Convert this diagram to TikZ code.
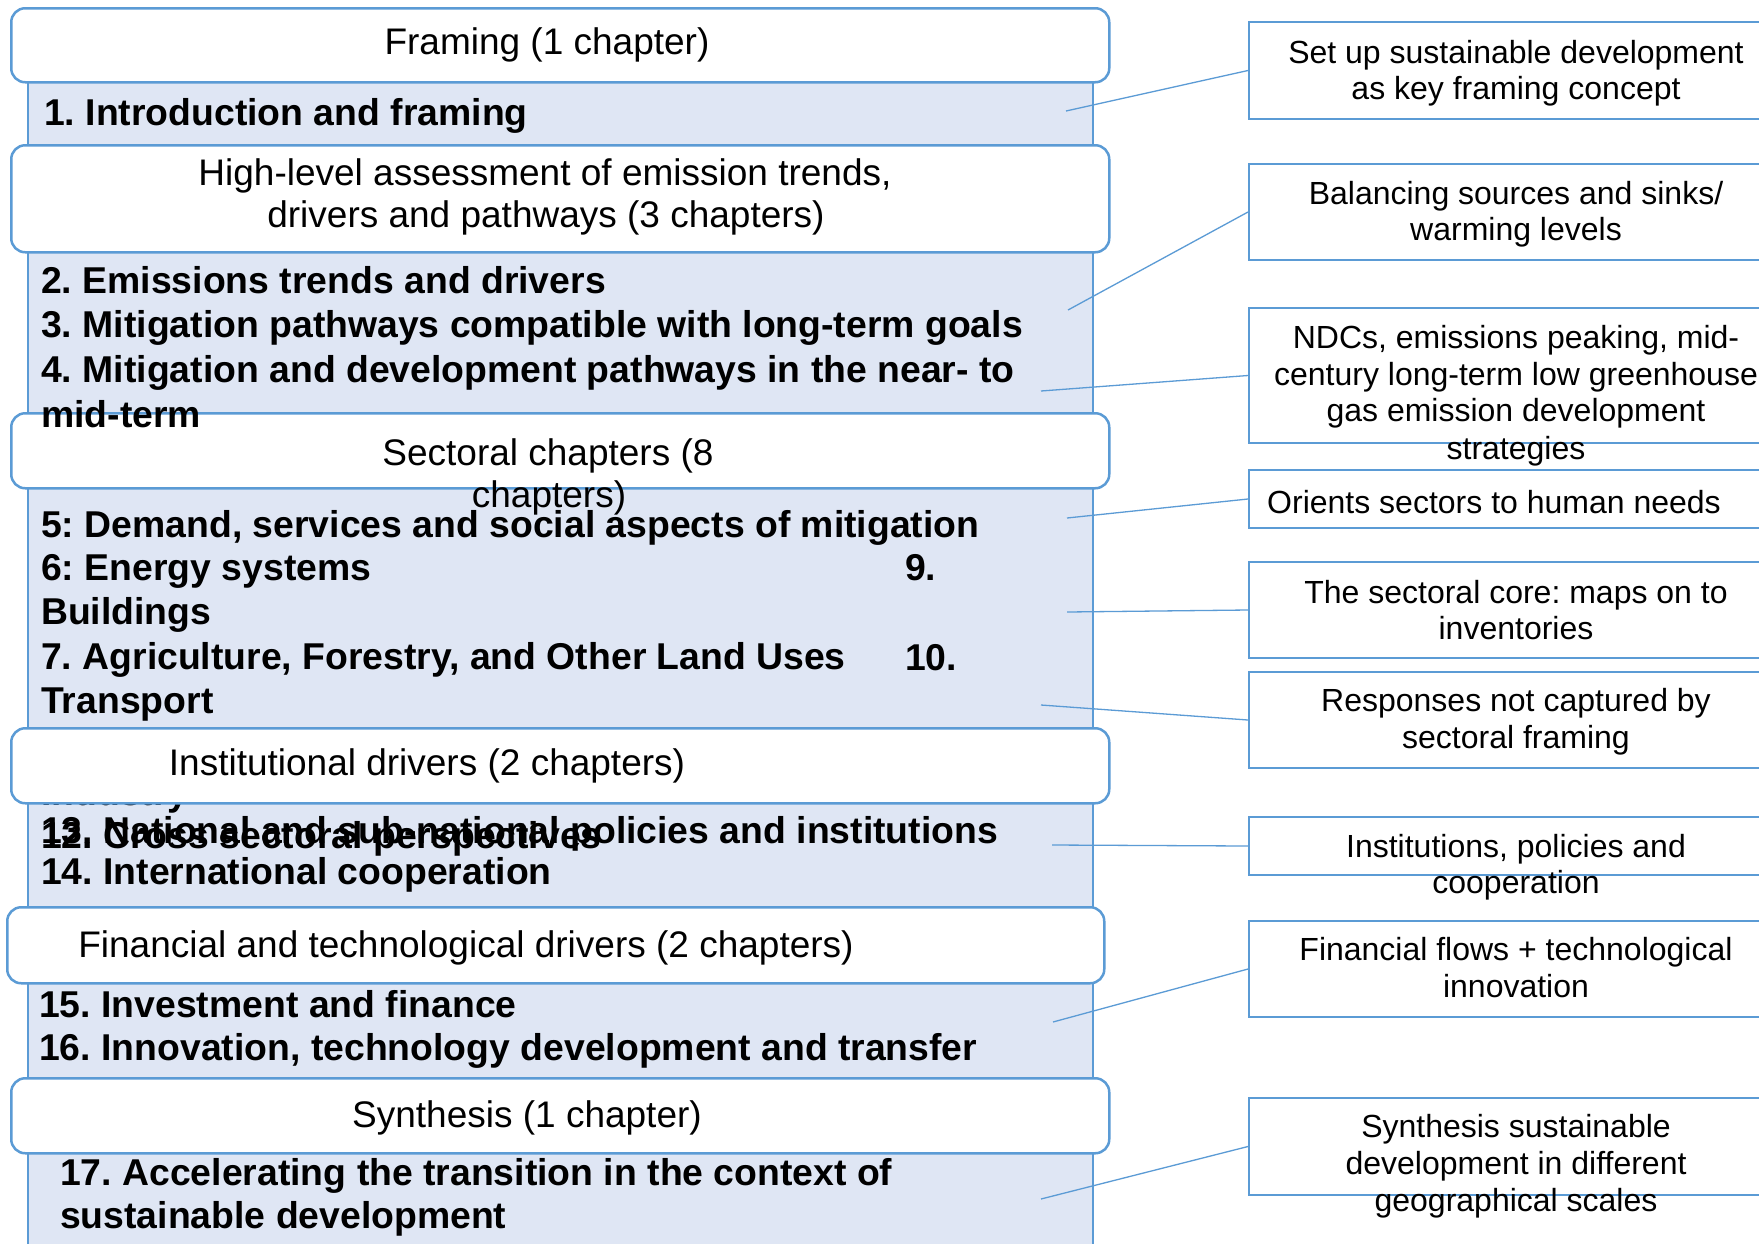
\documentclass[tikz,border=0pt]{standalone}
\usepackage{fontspec}
\setmainfont{Liberation Sans}
\definecolor{bord}{RGB}{91,155,213}
\definecolor{fillb}{RGB}{223,230,244}
\frenchspacing
\begin{document}
\begin{tikzpicture}[x=1pt,y=-1pt,
  bgbox/.style={draw=bord, line width=2pt, fill=fillb, anchor=north west, inner sep=0pt},
  hdr/.style={draw=bord, line width=2.5pt, fill=white, rounded corners=14pt, anchor=north west, inner sep=0pt, minimum width=1098pt},
  rbox/.style={draw=bord, line width=2pt, fill=white, anchor=north west, inner sep=0pt, minimum width=540pt},
  btxt/.style={font=\fontsize{37.35}{44}\selectfont\bfseries\frenchspacing, anchor=base west, inner sep=0pt},
  htxt/.style={font=\fontsize{37}{42}\selectfont\frenchspacing, anchor=base, inner sep=0pt},
  rtxt/.style={font=\fontsize{32}{37}\selectfont\frenchspacing, anchor=base, inner sep=0pt},
  conn/.style={draw=bord, line width=1.3pt}]
\clip (0,0) rectangle (1759,1243);
\fill[white] (0,0) rectangle (1759,1243);

% background content column
\node[bgbox, minimum width=1065pt, minimum height=1260pt] (bg) at (27,40) {};

% Framing
\node[hdr, minimum height=74pt] (h1) at (10,7) {};
\node[htxt] (h1t) at (547,54) {Framing (1 chapter)};
\node[btxt] (t1) at (44,125) {1. Introduction and framing};

% High-level
\node[hdr, minimum height=107pt] (h2) at (10,144) {};
\node[htxt] (h2a) at (545,185) {High-level assessment of emission trends,};
\node[htxt] (h2b) at (546,227) {drivers and pathways (3 chapters)};

% Sectoral header
\node[hdr, minimum height=75pt] (h3) at (10,412) {};
\node[htxt] (h3a) at (548,465) {Sectoral chapters (8};
\node[htxt] (h3b) at (549,507) {chapters)};

% High-level content
\node[btxt] (t2a) at (41,293) {2. Emissions trends and drivers};
\node[btxt] (t2b) at (41,337) {3. Mitigation pathways compatible with long-term goals};
\node[btxt] (t2c) at (41,382) {4. Mitigation and development pathways in the near- to};
\node[btxt] (t2d) at (41,427) {mid-term};

% Sectoral content
\node[btxt] (t3a) at (41,537) {5: Demand, services and social aspects of mitigation};
\node[btxt] (t3b) at (41,580) {6: Energy systems};
\node[btxt] (t3b2) at (905,580) {9.};
\node[btxt] (t3c) at (41,624) {Buildings};
\node[btxt] (t3d) at (41,669) {7. Agriculture, Forestry, and Other Land Uses};
\node[btxt] (t3d2) at (905,670) {10.};
\node[btxt] (t3e) at (41,713) {Transport};
\node[btxt] (t3f) at (41,805) {Industry};
\node[btxt] (t3g) at (41,848) {12. Cross sectoral perspectives};

% Institutional
\node[hdr, minimum height=75pt] (h4) at (10,727) {};
\node[htxt] (h4t) at (427,775) {Institutional drivers (2 chapters)};
\node[btxt] (t4a) at (41,843) {13. National and sub-national policies and institutions};
\node[btxt] (t4b) at (41,884) {14. International cooperation};

% Financial
\node[hdr, minimum width=1097pt, minimum height=76pt] (h5) at (6,906) {};
\node[htxt] (h5t) at (466,957) {Financial and technological drivers (2 chapters)};
\node[btxt] (t5a) at (39,1017) {15. Investment and finance};
\node[btxt] (t5b) at (39,1060) {16. Innovation, technology development and transfer};

% Synthesis
\node[hdr, minimum height=75pt] (h6) at (10,1077) {};
\node[htxt] (h6t) at (527,1127) {Synthesis (1 chapter)};
\node[btxt] (t6a) at (60,1185) {17. Accelerating the transition in the context of};
\node[btxt] (t6b) at (60,1228) {sustainable development};

% right boxes
\node[rbox, minimum height=97pt] (r1) at (1248,21) {};
\node[rbox, minimum height=96pt] (r2) at (1248,163) {};
\node[rbox, minimum height=135pt] (r3) at (1248,307) {};
\node[rbox, minimum height=58pt] (r4) at (1248,469) {};
\node[rbox, minimum height=96pt] (r5) at (1248,561) {};
\node[rbox, minimum height=96pt] (r6) at (1248,671) {};
\node[rbox, minimum height=58pt] (r7) at (1248,816) {};
\node[rbox, minimum height=96pt] (r8) at (1248,920) {};
\node[rbox, minimum height=97pt] (r9) at (1248,1097) {};

\node[rtxt] (r1a) at (1516,63) {Set up sustainable development};
\node[rtxt] (r1b) at (1516,99) {as key framing concept};
\node[rtxt] (r2a) at (1516,204) {Balancing sources and sinks/};
\node[rtxt] (r2b) at (1516,240) {warming levels};
\node[rtxt] (r3a) at (1516,348) {NDCs, emissions peaking, mid-};
\node[rtxt] (r3b) at (1516,385) {century long-term low greenhouse};
\node[rtxt] (r3c) at (1516,421) {gas emission development};
\node[rtxt] (r3d) at (1516,459) {strategies};
\node[rtxt] (r4a) at (1494,513) {Orients sectors to human needs};
\node[rtxt] (r5a) at (1516,603) {The sectoral core: maps on to};
\node[rtxt] (r5b) at (1516,639) {inventories};
\node[rtxt] (r6a) at (1516,711) {Responses not captured by};
\node[rtxt] (r6b) at (1516,748) {sectoral framing};
\node[rtxt] (r7a) at (1516,857) {Institutions, policies and};
\node[rtxt] (r7b) at (1516,893) {cooperation};
\node[rtxt] (r8a) at (1516,960) {Financial flows + technological};
\node[rtxt] (r8b) at (1516,997) {innovation};
\node[rtxt] (r9a) at (1516,1137) {Synthesis sustainable};
\node[rtxt] (r9b) at (1516,1174) {development in different};
\node[rtxt] (r9c) at (1516,1211) {geographical scales};

% connectors
\coordinate (c1) at (1066,111);
\coordinate (c2) at (1068,310);
\coordinate (c3) at (1041,391);
\coordinate (c4) at (1067,518);
\coordinate (c5) at (1067,612);
\coordinate (c6) at (1041,705);
\coordinate (c7) at (1052,845);
\coordinate (c8) at (1053,1022);
\coordinate (c9) at (1041,1199);
\draw[conn] (c1) -- (r1.west);
\draw[conn] (c2) -- (r2.west);
\draw[conn] (c3) -- (r3.west);
\draw[conn] (c4) -- (r4.west);
\draw[conn] (c5) -- (r5.west);
\draw[conn] (c6) -- (r6.west);
\draw[conn] (c7) -- (r7.west);
\draw[conn] (c8) -- (r8.west);
\draw[conn] (c9) -- (r9.west);
\end{tikzpicture}
\end{document}
